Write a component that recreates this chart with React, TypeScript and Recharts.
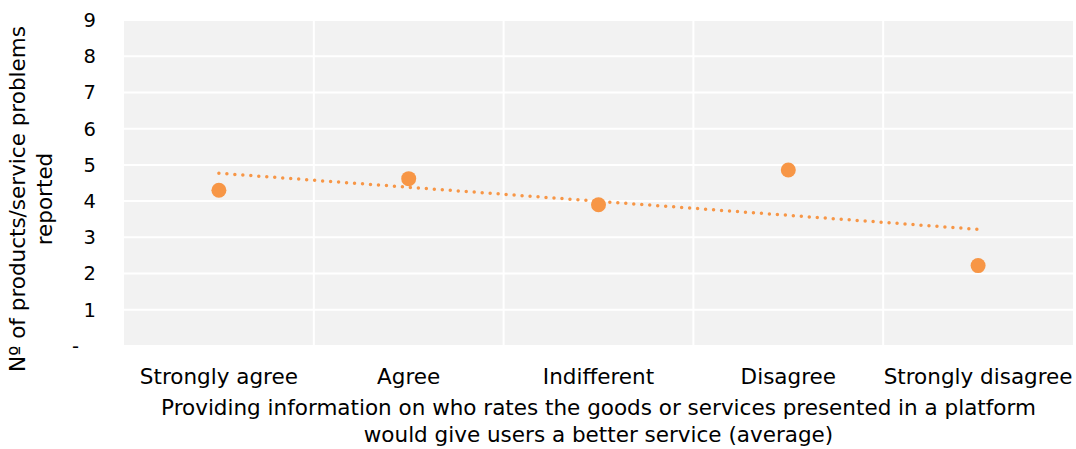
import React from 'react';
import { ComposedChart, XAxis, YAxis, CartesianGrid, Line } from 'recharts';

const categories = ['Strongly agree', 'Agree', 'Indifferent', 'Disagree', 'Strongly disagree'];
const problemsReported = [4.3, 4.62, 3.9, 4.86, 2.22];
const trendValues = [4.77, null, null, null, 3.22];
const yTicks = [0, 1, 2, 3, 4, 5, 6, 7, 8, 9];
const yTitleLines = ['Nº of products/service problems', 'reported'];
const xTitleLines = [
  'Providing information on who rates the goods or services presented in a platform',
  'would give users a better service (average)',
];

const data = categories.map((c, i) => ({ cat: c, value: problemsReported[i], trend: trendValues[i] }));

const ORANGE = '#f79646';
const FONT = 'DejaVu Sans, Verdana, sans-serif';
const FS = 21.5;
const TICK_FS = 19.5;

const YTick = (props: any) => {
  const { x, y, payload } = props;
  const isZero = payload.value === 0;
  return (
    <text x={isZero ? x - 17 : x} y={y} dy="0.355em" textAnchor="end" fill="#000" fontSize={TICK_FS} fontFamily={FONT}>
      {isZero ? '-' : String(payload.value)}
    </text>
  );
};

const YTitle = (props: any) => {
  const vb = props.viewBox || { x: 0, y: 0, width: 0, height: 0 };
  const cy = vb.y + vb.height / 2 + 16;
  const xs = [25, 52];
  return (
    <g>
      {yTitleLines.map((t, i) => (
        <text key={i} x={xs[i]} y={cy} transform={`rotate(-90, ${xs[i]}, ${cy})`} textAnchor="middle" fill="#000" fontSize={FS} fontFamily={FONT}>
          {t}
        </text>
      ))}
    </g>
  );
};

const XTitle = (props: any) => {
  const vb = props.viewBox || { x: 0, y: 0, width: 0, height: 0 };
  const cx = vb.x + vb.width / 2;
  const ys = [vb.y + 69, vb.y + 96];
  return (
    <g>
      {xTitleLines.map((t, i) => (
        <text key={i} x={cx} y={ys[i]} textAnchor="middle" fill="#000" fontSize={FS} fontFamily={FONT}>
          {t}
        </text>
      ))}
    </g>
  );
};

export default function App() {
  return (
    <div style={{ position: 'absolute', left: 0, top: 0, width: 1076, height: 449, background: '#fff' }}>
      <ComposedChart width={1076} height={449} data={data} margin={{ top: 20, right: 3, bottom: 73, left: 0 }}>
        <CartesianGrid
          fill="#f2f2f2"
          stroke="#ffffff"
          strokeWidth={2}
          verticalCoordinatesGenerator={({ offset }: any) =>
            [1, 2, 3, 4].map((i) => offset.left + (i * offset.width) / categories.length)
          }
        />
        <XAxis
          dataKey="cat"
          scale="band"
          axisLine={false}
          tickLine={false}
          tickMargin={17}
          height={30}
          tick={{ fill: '#000', fontSize: FS, fontFamily: FONT }}
          interval={0}
          label={{ content: XTitle }}
        />
        <YAxis
          type="number"
          domain={[0, 9]}
          ticks={yTicks}
          interval={0}
          axisLine={false}
          tickLine={false}
          width={124}
          tick={<YTick />}
          tickMargin={22}
          label={{ content: YTitle }}
        />
        <Line
          dataKey="trend"
          connectNulls
          stroke={ORANGE}
          strokeWidth={3.5}
          strokeDasharray="0 8"
          strokeLinecap="round"
          dot={false}
          activeDot={false}
          isAnimationActive={false}
        />
        <Line
          dataKey="value"
          stroke="none"
          dot={{ r: 7.5, fill: ORANGE, stroke: 'none' }}
          activeDot={false}
          isAnimationActive={false}
        />
      </ComposedChart>
    </div>
  );
}
